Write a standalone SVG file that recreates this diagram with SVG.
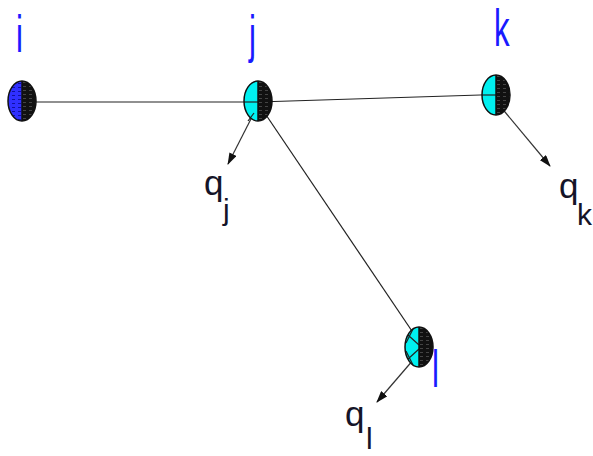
<svg xmlns="http://www.w3.org/2000/svg" width="593" height="456" viewBox="0 0 593 456">
<style>
.edge{stroke:#222;stroke-width:1.2;fill:none}
.arr{stroke:#333;stroke-width:1.2;fill:none;marker-end:url(#ah)}
.lbl{font-family:"Liberation Sans",Arial,sans-serif;font-size:52px;fill:#1a1aff}
.q{font-family:"Liberation Sans",Arial,sans-serif;font-size:35px;fill:#141428}
.sub{font-family:"Liberation Sans",Arial,sans-serif;font-size:30px;fill:#141428}
.out{fill:none;stroke:#111;stroke-width:1.5}
.div{stroke:#111;stroke-width:1.5}
</style>
<defs>
<pattern id="dark" width="6" height="4" patternUnits="userSpaceOnUse">
<rect width="6" height="4" fill="#111"/>
<rect x="1" y="1" width="3" height="1" fill="#444"/>
</pattern>
<pattern id="blue" width="6" height="4" patternUnits="userSpaceOnUse">
<rect width="6" height="4" fill="#3030ff"/>
<rect x="2" y="2" width="3" height="1" fill="#1010a0"/>
</pattern>
<marker id="ah" markerWidth="12" markerHeight="8" refX="11" refY="4" orient="auto" markerUnits="userSpaceOnUse">
<path d="M0,0 L12,4 L0,8 Z" fill="#111"/>
</marker>
<path id="lh" d="M0,-20 A14,20 0 0 0 0,20 Z"/>
<path id="rh" d="M0,-20 A14,20 0 0 1 0,20 Z" fill="url(#dark)"/>
</defs>
<g id="connectors">
<line class="edge" x1="22" y1="102" x2="258" y2="102"/>
<line class="edge" x1="258" y1="102" x2="496" y2="94.5"/>
<line class="edge" x1="260" y1="106" x2="418" y2="340"/>
<line class="arr" x1="254" y1="113" x2="228" y2="164"/>
<line class="arr" x1="500" y1="106" x2="550" y2="166"/>
<line class="arr" x1="420" y1="352" x2="377" y2="402"/>
</g>
<g id="node-i" transform="translate(22,101)">
<use href="#lh" fill="url(#blue)"/>
<use href="#rh"/>
<line class="div" x1="0" y1="-20" x2="0" y2="20"/>
<ellipse class="out" rx="14" ry="20"/>
<text class="lbl" transform="translate(-6,-49) scale(0.6,1)">i</text>
</g>
<g id="node-j" transform="translate(258,101)">
<use href="#lh" fill="#00f0f0"/>
<line class="edge" x1="-14" y1="1" x2="0" y2="1"/>
<line class="edge" x1="-4" y1="12" x2="-10" y2="20"/>
<use href="#rh"/>
<line class="div" x1="0" y1="-20" x2="0" y2="20"/>
<ellipse class="out" rx="14" ry="20"/>
<text class="lbl" transform="translate(-9,-49) scale(0.6,1)">j</text>
</g>
<g id="node-k" transform="translate(496,95)">
<use href="#lh" fill="#00f0f0"/>
<line class="edge" x1="-14" y1="0" x2="0" y2="0"/>
<use href="#rh"/>
<line class="div" x1="0" y1="-20" x2="0" y2="20"/>
<ellipse class="out" rx="14" ry="20"/>
<text class="lbl" transform="translate(-2,-49) scale(0.6,1)">k</text>
</g>
<g id="node-l" transform="translate(419,347)">
<use href="#lh" fill="#00f0f0"/>
<path class="edge" d="M-11,-12 L0,-2 M-11,12 L0,2 M-6,-18 L-13,-4 M-6,18 L-13,4"/>
<use href="#rh"/>
<line class="div" x1="0" y1="-20" x2="0" y2="20"/>
<ellipse class="out" rx="14" ry="20"/>
<text class="lbl" transform="translate(13,40) scale(0.6,1)">l</text>
</g>
<g id="label-qj">
<text class="q" x="204" y="195">q</text>
<text class="sub" x="223" y="220">j</text>
</g>
<g id="label-qk">
<text class="q" x="559" y="198">q</text>
<text class="sub" x="577" y="225">k</text>
</g>
<g id="label-ql">
<text class="q" x="345" y="426">q</text>
<text class="sub" x="366" y="449" font-size="28">l</text>
</g>
</svg>
